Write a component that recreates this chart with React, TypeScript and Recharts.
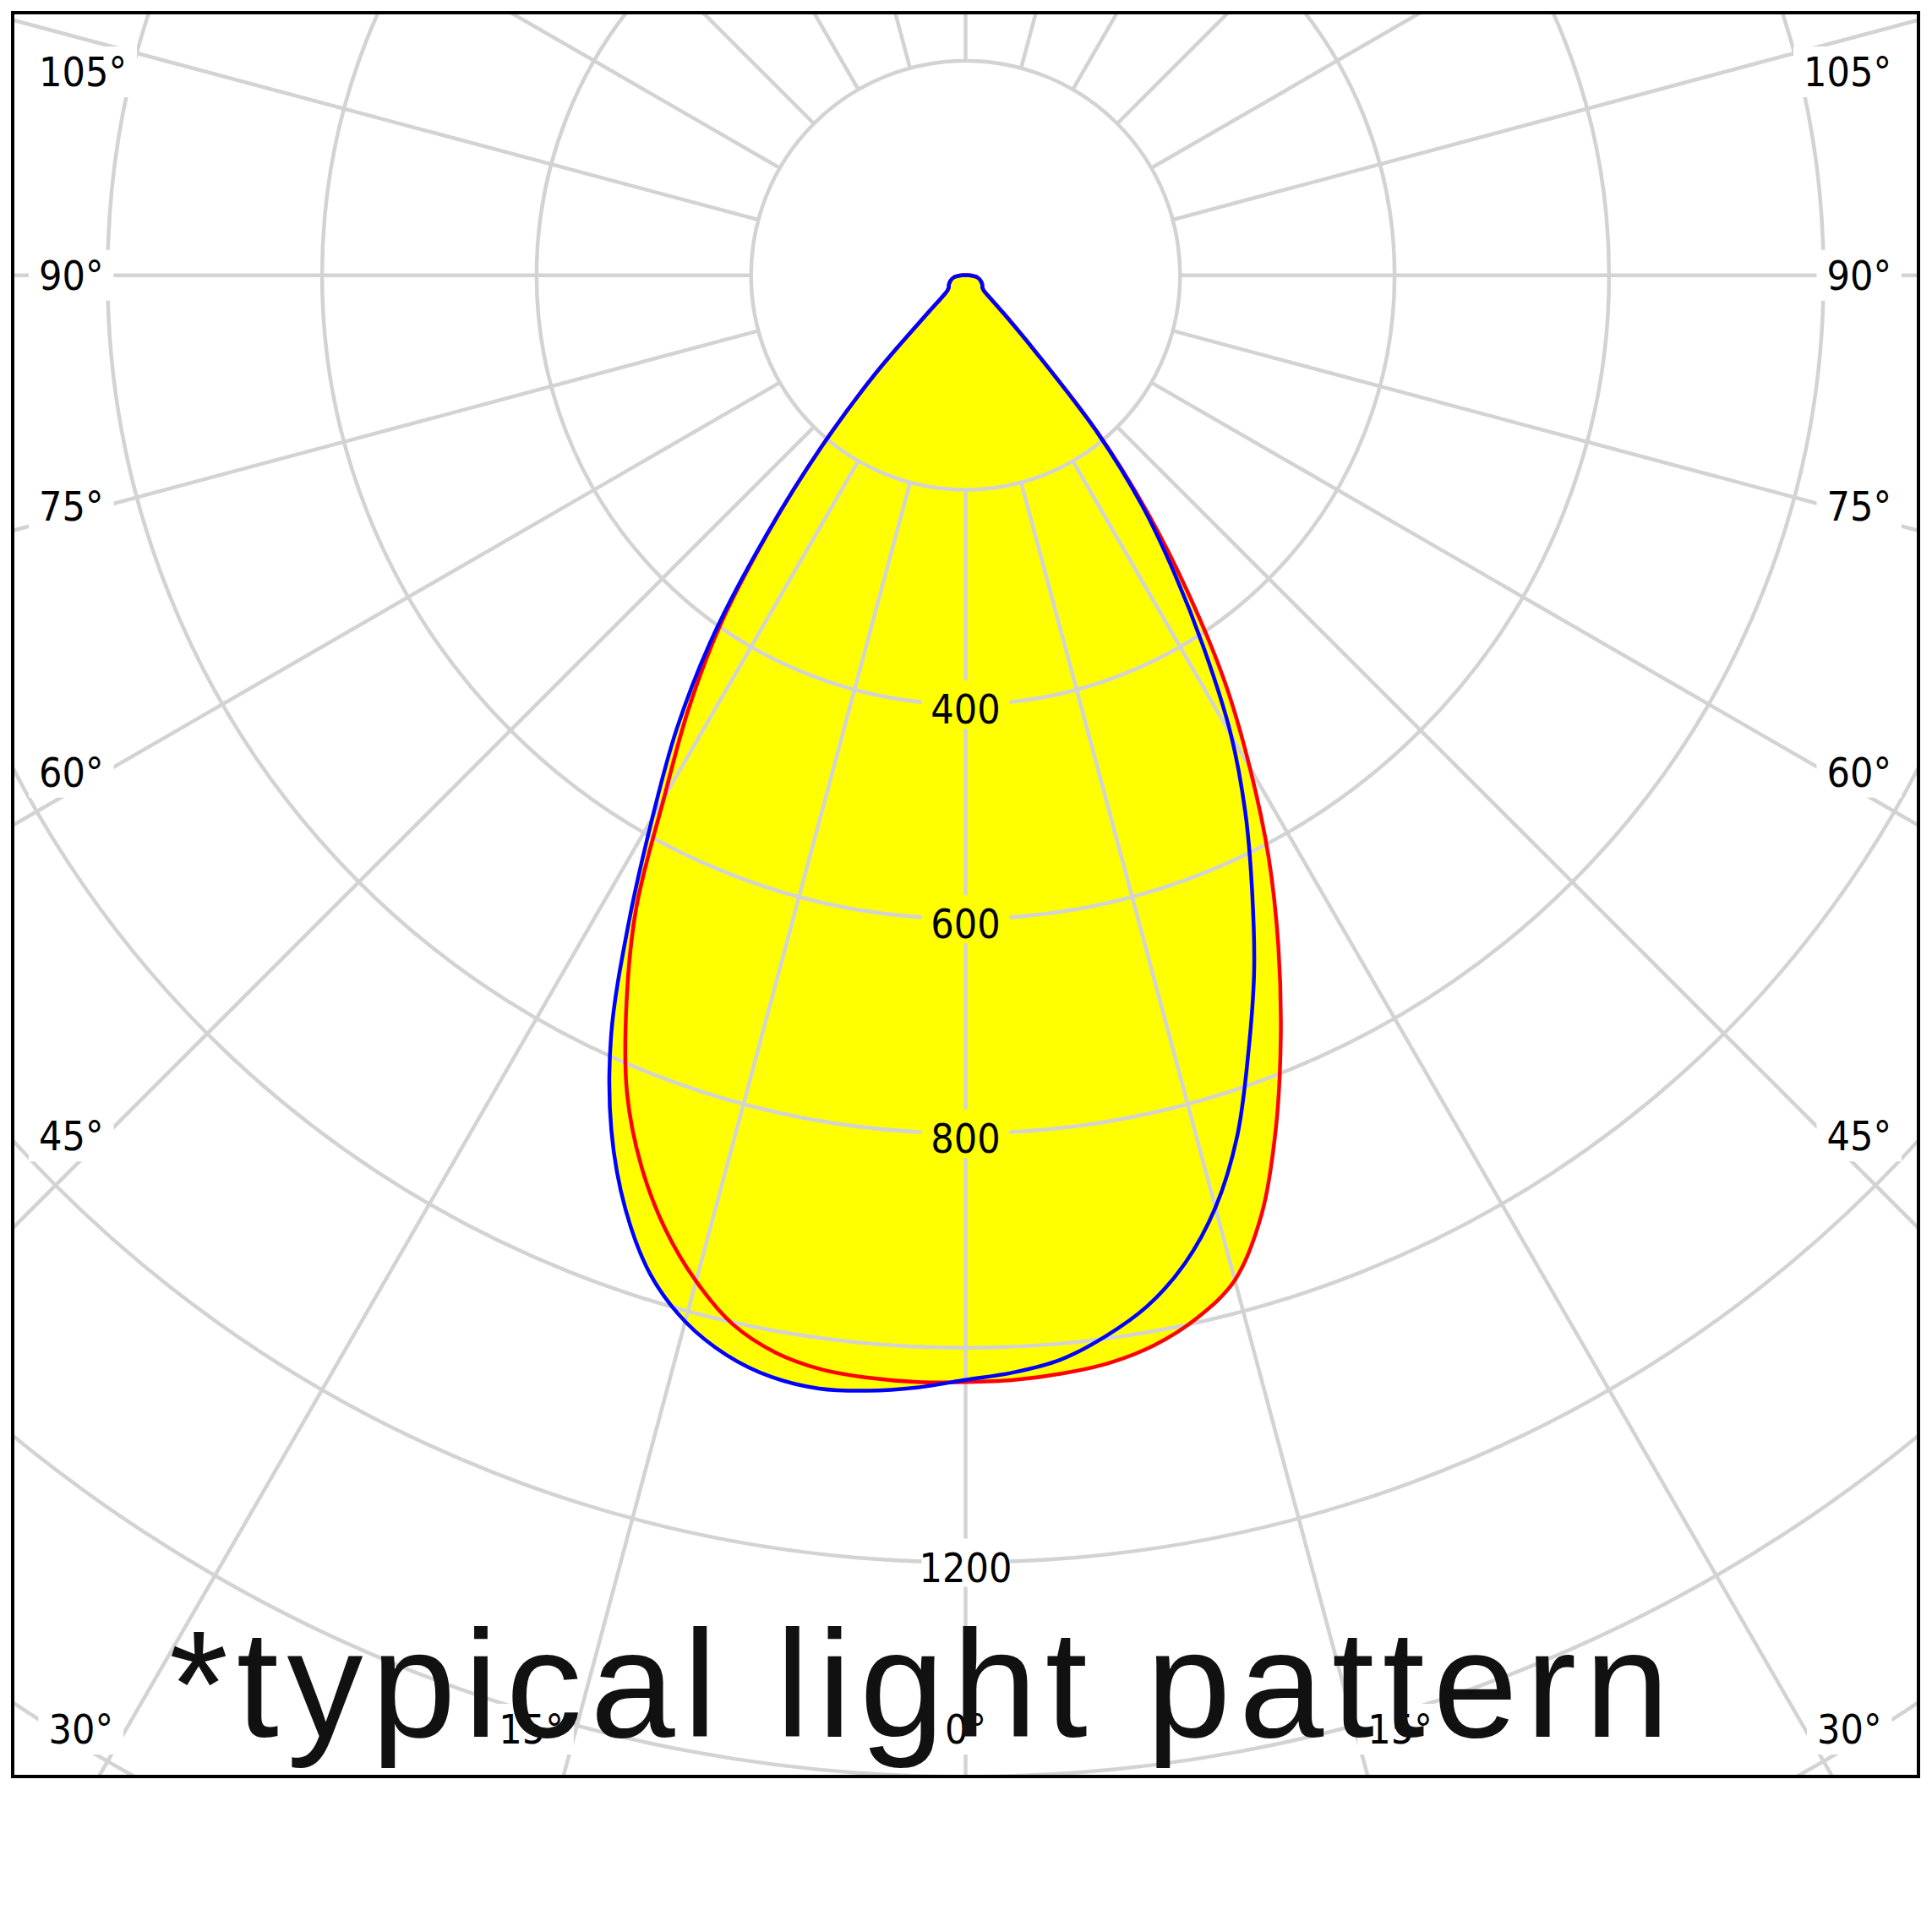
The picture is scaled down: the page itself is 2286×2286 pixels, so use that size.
import { PolarAngleAxis, PolarGrid, PolarRadiusAxis, Radar, RadarChart } from "recharts";

// gamma angles (degrees from nadir) and luminous intensity (cd) of each half plane
const GAMMA = [0, 2.5, 5, 7.5, 10, 12.5, 15, 17.5, 20, 22.5, 25, 27.5, 30, 32.5, 35, 37.5, 40, 42.5, 45, 47.5, 50, 55, 60, 70, 80, 90, 100, 120, 150, 180];
// red curve, right half
const C0 = [1032, 1031, 1028, 1023, 1013, 996, 970, 918, 846, 768, 690, 612, 530, 450, 362, 278, 192, 95, 50, 30, 22, 19, 18, 15, 11, 3, 1, 0, 0, 0];
// red curve, left half
const C180 = [1032, 1033, 1032, 1029, 1020, 1002, 971, 932, 884, 825, 748, 665, 562, 482, 400, 302, 210, 125, 50, 28, 22, 19, 18, 15, 11, 3, 1, 0, 0, 0];
// blue curve, right half
const C90 = [1030, 1024, 1015, 998, 976, 944, 900, 842, 771, 703, 632, 565, 495, 415, 340, 270, 190, 95, 50, 30, 22, 19, 18, 15, 11, 3, 1, 0, 0, 0];
// blue curve, left half
const C270 = [1030, 1038, 1044, 1047, 1043, 1031, 1010, 977, 927, 863, 782, 680, 584, 501, 410, 305, 210, 125, 50, 28, 22, 19, 18, 15, 11, 3, 1, 0, 0, 0];

const RING_TICKS = [200, 400, 600, 800, 1000, 1200, 1400, 1600, 1800];
const RING_LABELS = [400, 600, 800, 1200];
const ANGLE_TICKS = [0, 15, 30, 45, 60, 75, 90, 105, 120, 135, 150, 165, 180, 195, 210, 225, 240, 255, 270, 285, 300, 315, 330, 345];
const TITLE = "*typical light pattern";

const YELLOW = "#ffff00";
const GRID = "#d3d3d3";
const LABEL_FONT = "'DejaVu Sans Condensed', 'DejaVu Sans', sans-serif";
const FS = 48;

// layout (px)
const FRAME = { left: 15, top: 15, width: 2255, height: 2086 };
const CX = 1127.5;
const CY = 310.7;
const PX_PER_CD = 1.269;
const R_MAX = 1800;
const OUTER = R_MAX * PX_PER_CD;
const INNER = RING_TICKS[0] * PX_PER_CD;

// left half runs 0..180 clockwise from the bottom, right half 180..360
const rows = [
  ...GAMMA.map((g, i) => ({ pos: g, red: C180[i], blue: C270[i] })),
  ...GAMMA.map((g, i) => ({ pos: 360 - g, red: C0[i], blue: C90[i] }))
    .filter((r) => r.pos > 180 && r.pos < 360)
    .reverse(),
];

const chartProps = {
  width: FRAME.width,
  height: FRAME.height,
  cx: CX,
  cy: CY,
  data: rows,
  startAngle: -90,
  endAngle: -450,
  outerRadius: OUTER,
  margin: { top: 0, right: 0, bottom: 0, left: 0 },
};

type Pt = { x: number; y: number };

// closed centripetal catmull-rom through the points recharts computed
function smoothClosedPath(raw: Pt[]) {
  const pts: Pt[] = [];
  raw.forEach((p) => {
    const last = pts[pts.length - 1];
    if (!last || Math.hypot(p.x - last.x, p.y - last.y) > 0.01) pts.push(p);
  });
  while (pts.length > 2 && Math.hypot(pts[0].x - pts[pts.length - 1].x, pts[0].y - pts[pts.length - 1].y) <= 0.01) pts.pop();
  const n = pts.length;
  if (n < 3) return "";
  const eps = 1e-6;
  let d = `M${pts[0].x},${pts[0].y}`;
  for (let i = 0; i < n; i++) {
    const p0 = pts[(i - 1 + n) % n];
    const p1 = pts[i];
    const p2 = pts[(i + 1) % n];
    const p3 = pts[(i + 2) % n];
    const l01 = Math.sqrt(Math.hypot(p1.x - p0.x, p1.y - p0.y));
    const l12 = Math.sqrt(Math.hypot(p2.x - p1.x, p2.y - p1.y));
    const l23 = Math.sqrt(Math.hypot(p3.x - p2.x, p3.y - p2.y));
    let c1 = { x: p1.x, y: p1.y };
    let c2 = { x: p2.x, y: p2.y };
    if (l01 > eps) {
      const a = 2 * l01 * l01 + 3 * l01 * l12 + l12 * l12;
      const m = 3 * l01 * (l01 + l12);
      c1 = {
        x: (p1.x * a - p0.x * l12 * l12 + p2.x * l01 * l01) / m,
        y: (p1.y * a - p0.y * l12 * l12 + p2.y * l01 * l01) / m,
      };
    }
    if (l23 > eps) {
      const b = 2 * l23 * l23 + 3 * l23 * l12 + l12 * l12;
      const m = 3 * l23 * (l23 + l12);
      c2 = {
        x: (p2.x * b + p1.x * l23 * l23 - p3.x * l12 * l12) / m,
        y: (p2.y * b + p1.y * l23 * l23 - p3.y * l12 * l12) / m,
      };
    }
    d += ` C${c1.x},${c1.y} ${c2.x},${c2.y} ${p2.x},${p2.y}`;
  }
  return d + " Z";
}

function SmoothShape(props: any) {
  return (
    <path
      d={smoothClosedPath(props.points || [])}
      fill={props.fill}
      fillOpacity={props.fillOpacity}
      stroke={props.stroke}
      strokeWidth={props.strokeWidth}
      strokeLinejoin="round"
    />
  );
}

function labelWidth(label: string) {
  let w = 0;
  for (const ch of label) w += ch === "°" ? 0.45 * FS : 0.572 * FS;
  return w;
}

function AngleTick(props: any) {
  const pos = Number(props.payload?.value);
  const rad = (pos * Math.PI) / 180;
  const ux = -Math.sin(rad);
  const uy = Math.cos(rad);
  const gamma = pos <= 180 ? pos : 360 - pos;
  const label = `${Math.round(gamma)}°`;
  const w = labelWidth(label);
  let x = CX;
  let y = 2031;
  let anchor: "start" | "end" | "middle" = "middle";

  if (Math.abs(ux) > 1e-6) {
    const tSide = ux < 0 ? -CX / ux : (FRAME.width - CX) / ux;
    const ySide = CY + tSide * uy;
    if (ySide < 0) return null; // leaves through the top edge: no label
    if (ySide <= FRAME.height) {
      const reach = (CX - 109) / Math.abs(ux);
      y = Math.max(CY + reach * uy, 70);
      x = ux < 0 ? 31 : FRAME.width - 32;
      anchor = ux < 0 ? "start" : "end";
    } else {
      const xb = CX + (ux * (FRAME.height - CY)) / uy;
      x = ux < 0 ? Math.max(xb, 119) : Math.min(xb, FRAME.width - 120);
      anchor = ux < 0 ? "end" : "start";
    }
  } else if (uy < 0) {
    return null; // straight up
  }
  const left = anchor === "start" ? x : anchor === "end" ? x - w : x - w / 2;
  return (
    <g>
      <rect x={left - 12} y={y - 30} width={w + 24} height={60} fill="#ffffff" />
      <text
        x={x}
        y={y}
        textAnchor={anchor}
        dominantBaseline="central"
        fontFamily={LABEL_FONT}
        fontSize={FS}
        style={{ fontStretch: "condensed" }}
        fill="#000"
      >
        {label}
      </text>
    </g>
  );
}

function RingTick(props: any) {
  const v = Number(props.payload?.value);
  if (!RING_LABELS.includes(v)) return null;
  const inside = v < Math.min(C0[0], C90[0], C180[0], C270[0]);
  return (
    <g>
      <rect x={props.x - 52} y={props.y - 28} width={104} height={57} fill={inside ? YELLOW : "#ffffff"} />
      <text
        x={props.x}
        y={props.y + 6}
        textAnchor="middle"
        dominantBaseline="central"
        fontFamily={LABEL_FONT}
        fontSize={FS}
        style={{ fontStretch: "condensed" }}
        fill="#000"
      >
        {v}
      </text>
    </g>
  );
}

const layer: React.CSSProperties = {
  position: "absolute",
  left: FRAME.left,
  top: FRAME.top,
  width: FRAME.width,
  height: FRAME.height,
  overflow: "hidden",
};

export default function App() {
  return (
    <div style={{ position: "absolute", left: 0, top: 0, width: 2286, height: 2286, background: "#fff" }}>
      {/* yellow area under both curves */}
      <div style={layer}>
        <RadarChart {...chartProps}>
          <PolarAngleAxis dataKey="pos" type="number" domain={[0, 360]} tick={false} axisLine={false} tickLine={false} />
          <PolarRadiusAxis domain={[0, R_MAX]} tick={false} axisLine={false} />
          <Radar dataKey="red" fill={YELLOW} fillOpacity={1} stroke="none" shape={(p: any) => <SmoothShape {...p} />} dot={false} isAnimationActive={false} />
          <Radar dataKey="blue" fill={YELLOW} fillOpacity={1} stroke="none" shape={(p: any) => <SmoothShape {...p} />} dot={false} isAnimationActive={false} />
        </RadarChart>
      </div>

      {/* grid and labels, radial lines start at the 200 cd ring */}
      <div style={layer}>
        <RadarChart {...chartProps} innerRadius={INNER}>
          <PolarGrid gridType="circle" stroke={GRID} strokeWidth={4.5} />
          <PolarAngleAxis
            dataKey="pos"
            type="number"
            domain={[0, 360]}
            ticks={ANGLE_TICKS}
            tick={(p: any) => <AngleTick {...p} />}
            axisLine={false}
            tickLine={false}
          />
          <PolarRadiusAxis
            angle={-90}
            domain={[RING_TICKS[0], R_MAX]}
            allowDataOverflow
            ticks={RING_TICKS}
            tick={(p: any) => <RingTick {...p} />}
            axisLine={false}
          />
          <Radar dataKey="red" fill="none" stroke="none" dot={false} isAnimationActive={false} />
        </RadarChart>
      </div>

      {/* curve outlines */}
      <div style={layer}>
        <RadarChart {...chartProps}>
          <PolarAngleAxis dataKey="pos" type="number" domain={[0, 360]} tick={false} axisLine={false} tickLine={false} />
          <PolarRadiusAxis domain={[0, R_MAX]} tick={false} axisLine={false} />
          <Radar dataKey="red" fill="none" fillOpacity={0} stroke="#ff0000" strokeWidth={4.5} shape={(p: any) => <SmoothShape {...p} />} dot={false} isAnimationActive={false} />
          <Radar dataKey="blue" fill="none" fillOpacity={0} stroke="#0000ff" strokeWidth={4.5} shape={(p: any) => <SmoothShape {...p} />} dot={false} isAnimationActive={false} />
        </RadarChart>
      </div>

      <svg width={2286} height={2286} style={{ position: "absolute", left: 0, top: 0, pointerEvents: "none" }}>
        <text
          x={200}
          y={2055}
          fontFamily="'Liberation Sans', Arial, sans-serif"
          fontSize={180}
          fill="#111"
          textLength={1775}
          lengthAdjust="spacing"
        >
          {TITLE}
        </text>
      </svg>

      <div
        style={{
          position: "absolute",
          left: 13,
          top: 13,
          width: 2259,
          height: 2091,
          border: "4px solid #000",
          boxSizing: "border-box",
        }}
      />
    </div>
  );
}
